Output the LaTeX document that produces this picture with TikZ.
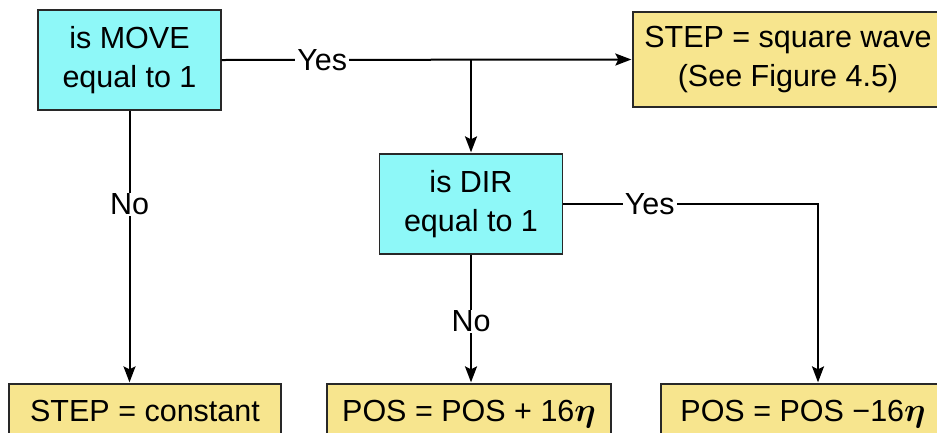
\documentclass[tikz,border=0pt]{standalone}
\usepackage{amsmath}
\usepackage{fontspec}
\setmainfont{Liberation Sans}
\usetikzlibrary{arrows.meta}

\definecolor{qcyan}{RGB}{142,248,248}
\definecolor{qyellow}{RGB}{247,229,142}
\definecolor{qedge}{RGB}{40,40,40}

\newcommand{\bigeta}{\scalebox{1.35}{$\boldsymbol{\eta}$}}

\tikzset{
  decision/.style={draw=qedge, line width=1.3pt, fill=qcyan, align=center,
    minimum width=183pt, minimum height=100pt, inner sep=0pt},
  action/.style={draw=qedge, line width=1.3pt, fill=qyellow, align=center,
    inner sep=0pt},
  result/.style={action, anchor=base, text height=37pt, text depth=45pt},
  flow/.style={line width=2pt, shorten >=1pt,
    -{Stealth[length=16pt,width=12pt,inset=3pt]}},
  lbl/.style={fill=white, inner xsep=2pt, inner ysep=1pt}
}

\begin{document}
\begin{tikzpicture}[x=1pt, y=-1pt, font=\fontsize{30.5}{39}\selectfont]
  \clip (0,0) rectangle (937,432);
  \fill[white] (0,0) rectangle (937,432);

  % decisions
  \node[decision] (move) at (129.5,60) {is MOVE\\equal to 1};
  \node[decision] (dir) at (471,204) {is DIR\\equal to 1};

  % actions
  \node[action, minimum width=310pt, minimum height=95pt] (wave) at (788,59.5)
    {STEP = square wave\\(See Figure 4.5)};
  \node[result, minimum width=272pt] (const) at (145,421) {STEP = constant};
  \node[result, minimum width=284pt] (plus) at (469,421)
    {POS = POS + 16\bigeta};
  \node[result, minimum width=284pt] (minus) at (803,421)
    {POS = POS −16\bigeta};

  % connectors
  \coordinate (split) at (dir.north |- move.east);
  \coordinate (corner) at (818,204);

  \draw[flow] (move.east) -- node[lbl, pos=0.245] {Yes} (wave.west);
  \draw[flow] (split) -- (dir.north);
  \draw[flow] (move.south) -- node[lbl, pos=0.343] {No} (move.south |- const.north);
  \draw[flow] (dir.south) -- node[lbl, pos=0.52] {No} (dir.south |- plus.north);
  \draw[flow] (dir.east) -- node[lbl, pos=0.34] {Yes} (corner) -- (corner |- minus.north);
\end{tikzpicture}
\end{document}
